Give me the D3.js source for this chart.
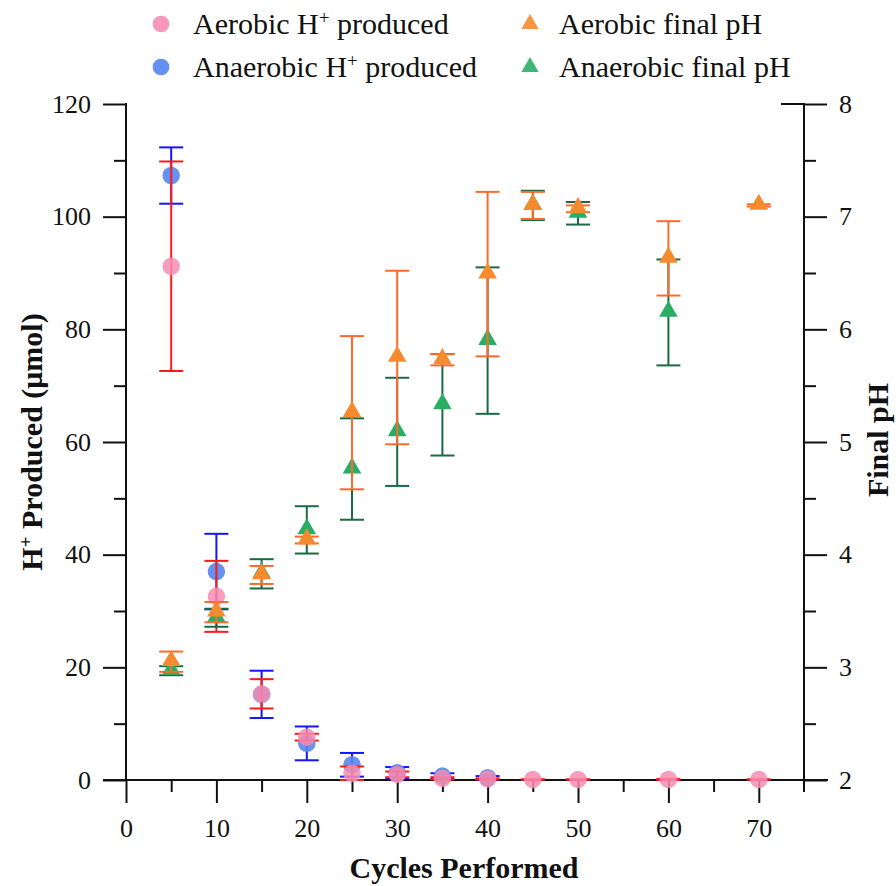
<!DOCTYPE html>
<html>
<head>
<meta charset="utf-8">
<script src="https://cdn.jsdelivr.net/npm/d3@7"></script>
<style>
  body { margin: 0; background: #fff; }
  svg text { font-family: "Liberation Serif", "DejaVu Serif", serif; fill: #111; }
</style>
</head>
<body>
<svg width="896" height="886"></svg>
<script>
// cycles for each series
const cycles = [5, 10, 15, 20, 25, 30, 35, 40, 45, 50, 60, 70];
const anaerobicCycles = [5, 10, 15, 20, 25, 30, 35, 40];
const anaerobicPhCycles = [5, 10, 15, 20, 25, 30, 35, 40, 45, 50, 60];

// H+ produced (umol)
const aerobicH = [91.2, 32.6, 15.3, 7.6, 1.2, 1.0, 0.3, 0.2, 0.1, 0.1, 0.1, 0.1];
const aerobicHErr = [18.6, 6.3, 2.6, 0.6, 1.2, 0.5, 0.2, 0.1, 0, 0, 0.1, 0];
const anaerobicH = [107.3, 37.0, 15.2, 6.5, 2.7, 1.3, 0.7, 0.4];
const anaerobicHErr = [5.0, 6.7, 4.2, 3.0, 2.1, 1.0, 0.5, 0.3];

// final pH
const aerobicPH = [3.05, 3.49, 3.82, 4.13, 5.26, 5.75, 5.73, 6.49, 7.10, 7.07, 6.63, 7.10];
const aerobicPHErr = [0.09, 0.09, 0.08, 0.03, 0.68, 0.77, 0.05, 0.73, 0.12, 0.03, 0.33, 0.01];
const anaerobicPH = [2.97, 3.44, 3.83, 4.22, 4.76, 5.09, 5.33, 5.90, 7.10, 7.03, 6.15];
const anaerobicPHErr = [0.04, 0.08, 0.13, 0.21, 0.45, 0.48, 0.45, 0.65, 0.13, 0.10, 0.47];

const leftTicks = [0, 20, 40, 60, 80, 100, 120];
const rightTicks = [2, 3, 4, 5, 6, 7, 8];
const xTicks = [0, 10, 20, 30, 40, 50, 60, 70];

const svg = d3.select("svg");

const x = d3.scaleLinear().domain([0, 75]).range([126, 804]);
const yL = d3.scaleLinear().domain([0, 120]).range([780, 104]);
const yR = d3.scaleLinear().domain([2, 8]).range([780, 104]);

// axes: minor ticks first, then major ticks with labels
function styleAxis(g) {
  g.select(".domain").remove();
  g.selectAll("line").attr("stroke", "#111").attr("stroke-width", 2);
  g.selectAll("text").attr("font-size", 26).attr("font-family", "Liberation Serif").attr("fill", "#111");
}

svg.append("g").attr("transform", "translate(126,0)")
  .call(d3.axisLeft(yL).tickValues(d3.range(10, 120, 20)).tickSize(12).tickFormat(""))
  .call(styleAxis);
svg.append("g").attr("transform", "translate(126,0)")
  .call(d3.axisLeft(yL).tickValues(leftTicks).tickSize(23).tickPadding(12))
  .call(styleAxis);

svg.append("g").attr("transform", "translate(804,0)")
  .call(d3.axisRight(yR).tickValues(d3.range(2.5, 8, 1)).tickSize(12).tickFormat(""))
  .call(styleAxis);
svg.append("g").attr("transform", "translate(804,0)")
  .call(d3.axisRight(yR).tickValues(rightTicks).tickSize(23).tickPadding(12).tickFormat(d3.format("d")))
  .call(styleAxis);

svg.append("g").attr("transform", "translate(0,780)")
  .call(d3.axisBottom(x).tickValues(d3.range(5, 75, 10)).tickSize(12).tickFormat(""))
  .call(styleAxis);
svg.append("g").attr("transform", "translate(0,780)")
  .call(d3.axisBottom(x).tickValues(xTicks).tickSize(23).tickPadding(16))
  .call(styleAxis);

// axis lines
svg.append("line").attr("x1", 126).attr("x2", 126).attr("y1", 103).attr("y2", 780)
  .attr("stroke", "#111").attr("stroke-width", 2);
svg.append("line").attr("x1", 804).attr("x2", 804).attr("y1", 103).attr("y2", 792)
  .attr("stroke", "#111").attr("stroke-width", 2);
svg.append("line").attr("x1", 103).attr("x2", 828).attr("y1", 780).attr("y2", 780)
  .attr("stroke", "#111").attr("stroke-width", 2);
svg.append("line").attr("x1", 781).attr("x2", 804).attr("y1", 104).attr("y2", 104)
  .attr("stroke", "#111").attr("stroke-width", 2);

// axis titles
svg.append("text")
  .attr("transform", "translate(42,442) rotate(-90)")
  .attr("text-anchor", "middle").attr("font-size", 30).attr("font-weight", "bold")
  .html('H<tspan baseline-shift="super" font-size="19">+</tspan> Produced (μmol)');
svg.append("text")
  .attr("transform", "translate(888,440) rotate(-90)")
  .attr("text-anchor", "middle").attr("font-size", 30).attr("font-weight", "bold")
  .text("Final pH");
svg.append("text")
  .attr("x", 464).attr("y", 878)
  .attr("text-anchor", "middle").attr("font-size", 30).attr("font-weight", "bold")
  .text("Cycles Performed");

// draw a series of error bars + markers
function drawSeries(xs, vals, errs, yScale, barColor, fill, shape, opacity) {
  const data = xs.map((c, i) => ({ c: c, v: vals[i], e: errs[i] }));
  const g = svg.append("g");
  const bars = g.selectAll("g.err").data(data).enter().append("g").attr("class", "err")
    .attr("stroke", barColor).attr("stroke-width", 2);
  bars.append("line")
    .attr("x1", d => x(d.c)).attr("x2", d => x(d.c))
    .attr("y1", d => yScale(d.v - d.e)).attr("y2", d => yScale(d.v + d.e));
  bars.append("line")
    .attr("x1", d => x(d.c) - 12).attr("x2", d => x(d.c) + 12)
    .attr("y1", d => yScale(d.v + d.e)).attr("y2", d => yScale(d.v + d.e));
  bars.append("line")
    .attr("x1", d => x(d.c) - 12).attr("x2", d => x(d.c) + 12)
    .attr("y1", d => yScale(d.v - d.e)).attr("y2", d => yScale(d.v - d.e));

  const sym = d3.symbol().type(shape === "circle" ? d3.symbolCircle : d3.symbolTriangle)
    .size(shape === "circle" ? 240 : 150);
  g.selectAll("path.mark").data(data).enter().append("path").attr("class", "mark")
    .attr("d", sym)
    .attr("transform", d => `translate(${x(d.c)},${yScale(d.v) + (shape === "circle" ? 0 : -1)})`)
    .attr("fill", fill).attr("fill-opacity", opacity);
}

drawSeries(anaerobicCycles, anaerobicH, anaerobicHErr, yL, "#1414ff", "#5585ee", "circle", 0.9);
drawSeries(cycles, aerobicH, aerobicHErr, yL, "#ff1a1a", "#f48db2", "circle", 0.85);
drawSeries(anaerobicPhCycles, anaerobicPH, anaerobicPHErr, yR, "#1c6a45", "#2aae66", "triangle", 1);
drawSeries(cycles, aerobicPH, aerobicPHErr, yR, "#ff6a2c", "#f58a2e", "triangle", 1);

// legend
const legend = [
  { label: "Aerobic H", sup: true, rest: " produced", fill: "#f48db2", shape: "circle", lx: 161, ly: 24 },
  { label: "Anaerobic H", sup: true, rest: " produced", fill: "#5585ee", shape: "circle", lx: 161, ly: 67 },
  { label: "Aerobic final pH", sup: false, rest: "", fill: "#f58a2e", shape: "triangle", lx: 530, ly: 24 },
  { label: "Anaerobic final pH", sup: false, rest: "", fill: "#2aae66", shape: "triangle", lx: 530, ly: 67 }
];
legend.forEach(d => {
  const sym = d3.symbol().type(d.shape === "circle" ? d3.symbolCircle : d3.symbolTriangle)
    .size(d.shape === "circle" ? 220 : 130);
  svg.append("path").attr("d", sym)
    .attr("transform", `translate(${d.lx},${d.ly})`)
    .attr("fill", d.fill).attr("fill-opacity", 0.9);
  const t = svg.append("text").attr("x", d.shape === "circle" ? d.lx + 32 : d.lx + 29)
    .attr("y", d.ly + 10).attr("font-size", 30);
  t.append("tspan").text(d.label);
  if (d.sup) {
    t.append("tspan").attr("baseline-shift", "super").attr("font-size", 19).text("+");
    t.append("tspan").text(d.rest);
  }
});
</script>
</body>
</html>
